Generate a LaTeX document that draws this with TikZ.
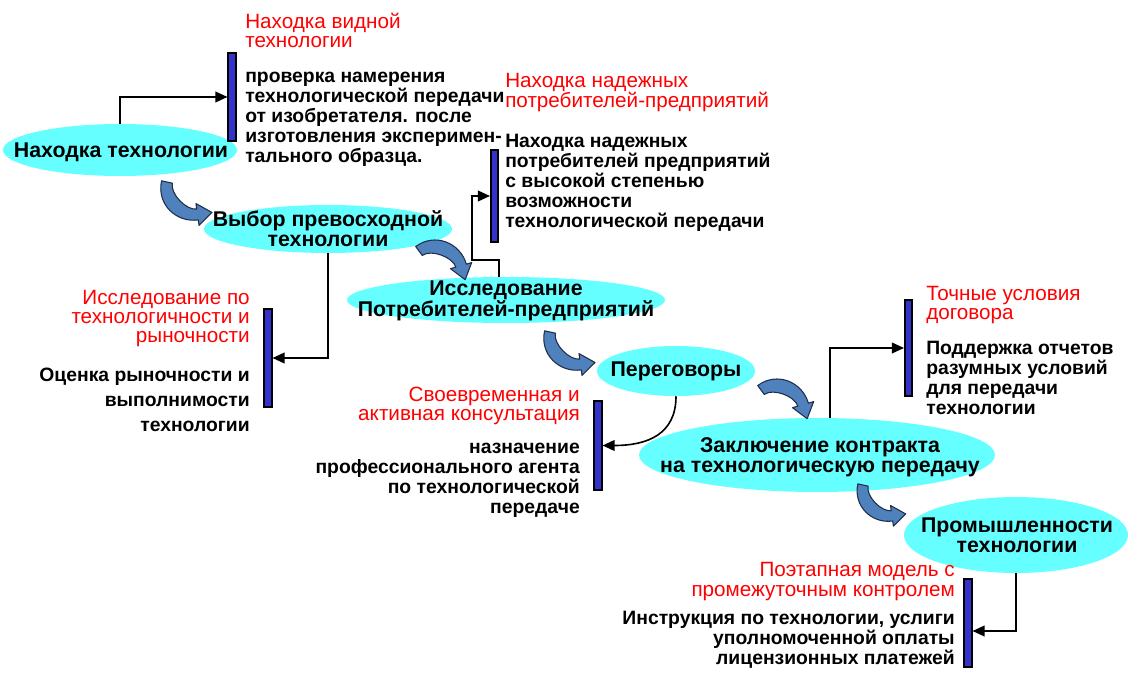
\documentclass[tikz,border=0pt]{standalone}
\usepackage{fontspec}
\setmainfont{Liberation Sans}
\usetikzlibrary{arrows.meta, shapes.geometric, calc}
\definecolor{kcyan}{HTML}{66FFFF}
\definecolor{kbar}{HTML}{3333CC}
\definecolor{kred}{HTML}{FF0000}
\definecolor{kbend}{HTML}{4F81BD}
\definecolor{kbendline}{HTML}{1F2D4A}

% curved block arrow between two stages
\newcommand{\bendarrow}[1]{%
  \begin{scope}[#1]
    \filldraw[fill=kbend, draw=kbendline, line width=0.8pt, line join=round]
      (-5.4,-1.2) .. controls (-10.6,22.2) and (9.2,41) .. (31.3,37.9)
      -- (32,43.4) -- (45,30.5) -- (29,21.6) -- (29.7,27.1)
      .. controls (19.5,28.5) and (3,12) .. (5.4,1.2) -- cycle;
  \end{scope}}

\begin{document}
\begin{tikzpicture}[x=0.75pt, y=-0.75pt,
  stage/.style={ellipse, fill=kcyan, inner sep=0pt},
  stagetxt/.style={inner sep=0pt, align=center, anchor=base,
    font=\bfseries\fontsize{16}{15}\selectfont},
  bar/.style={draw=black, fill=kbar, line width=1.2pt, minimum width=5.6pt, inner sep=0pt},
  head/.style={text=kred, inner sep=0pt, font=\fontsize{15.5}{14.5}\selectfont},
  body/.style={inner sep=0pt, font=\bfseries\fontsize{14.5}{15}\selectfont},
  conn/.style={draw=black, line width=1.2pt, -{Triangle[length=9pt, width=8pt]}}]
\fill[white] (0,0) rectangle (1138,680);
\useasboundingbox (0,0) rectangle (1138,680);

% stages
\node[stage, minimum width=175.5pt, minimum height=39pt] (eFind) at (120,150) {};
\node[stage, minimum width=186pt, minimum height=36pt] (eSelect) at (328,229) {};
\node[stage, minimum width=238.5pt, minimum height=34.5pt] (eResearch) at (506,300) {};
\node[stage, minimum width=118.5pt, minimum height=37.5pt] (eNegot) at (676,371) {};
\node[stage, minimum width=267pt, minimum height=55.5pt] (eContract) at (817,455) {};
\node[stage, minimum width=168pt, minimum height=57pt] (eIndustry) at (1016,535) {};
\node[stagetxt] (lFind) at (121,158) {Находка технологии};
\node[stagetxt] (lSelect) at (328,247) {Выбор превосходной\\технологии};
\node[stagetxt] (lResearch) at (506,317) {Исследование\\Потребителей-предприятий};
\node[stagetxt] (lNegot) at (676,377) {Переговоры};
\node[stagetxt] (lContract) at (820,472) {Заключение контракта\\на технологическую передачу};
\node[stagetxt] (lIndustry) at (1017,552) {Промышленности\\технологии};

% bars
\node[bar, minimum height=66pt] (barA) at (232,97) {};
\node[bar, minimum height=69pt] (barB) at (494.5,196) {};
\node[bar, minimum height=73.5pt] (barC) at (268,358) {};
\node[bar, minimum height=66.75pt] (barD) at (598,445.5) {};
\node[bar, minimum height=72pt] (barE) at (908.5,348) {};
\node[bar, minimum height=66pt] (barF) at (968,623) {};

% notes (base = last line)
\node[head, anchor=base west, align=left] (hFind) at (245,48) {Находка видной\\технологии};
\node[body, anchor=base west, align=left] (tFind) at (245,163)
  {проверка намерения\\технологической передачи\\от изобретателя. после\\изготовления эксперимен-\\тального образца.};
\node[head, anchor=base west, align=left] (hBuyer) at (505,108) {Находка надежных\\потребителей-предприятий};
\node[body, anchor=base west, align=left] (tBuyer) at (505,228)
  {Находка надежных\\потребителей предприятий\\с высокой степенью\\возможности\\технологической передачи};
\node[head, anchor=base east, align=right] (hMarket) at (250,343) {Исследование по\\технологичности и\\рыночности};
\node[body, anchor=base east, align=right, font=\bfseries\fontsize{14.5}{18.75}\selectfont] (tMarket) at (250,432)
  {Оценка рыночности и\\выполнимости\\технологии};
\node[head, anchor=base east, align=right] (hConsult) at (580,421) {Своевременная и\\активная консультация};
\node[body, anchor=base east, align=right] (tConsult) at (580,513)
  {назначение\\профессионального агента\\по технологической\\передаче};
\node[head, anchor=base west, align=left] (hTerms) at (926,320) {Точные условия\\договора};
\node[body, anchor=base west, align=left] (tTerms) at (926,415)
  {Поддержка отчетов\\разумных условий\\для передачи\\технологии};
\node[head, anchor=base east, align=right] (hStage) at (955,596) {Поэтапная модель с\\промежуточным контролем};
\node[body, anchor=base east, align=right] (tStage) at (955,664)
  {Инструкция по технологии, услиги\\уполномоченной оплаты\\лицензионных платежей};

% connectors
\coordinate (kB) at (472,260);
\coordinate (cB) at (499,0);
\coordinate (cE) at (830,0);
\draw[conn] (eFind.north) |- (barA.west);
\draw[conn] (eSelect.south) |- (barC.east);
\draw[conn] (cB |- eResearch.north) |- (kB) |- (barB.west);
\draw[conn] (eNegot.south) .. controls +(0,38) and +(45,0) .. (barD.east);
\draw[conn] (cE |- eContract.north) |- (barE.west);
\draw[conn] (eIndustry.south) |- ([yshift=-6pt]barF.east);

% flow arrows
\bendarrow{shift={(167,182)}}
\bendarrow{shift={(419,251)}, rotate=114, xscale=-1}
\bendarrow{shift={(550,332)}}
\bendarrow{shift={(761,390)}, rotate=114, xscale=-1}
\bendarrow{shift={(863,485)}, scale=0.95}
\end{tikzpicture}
\end{document}
